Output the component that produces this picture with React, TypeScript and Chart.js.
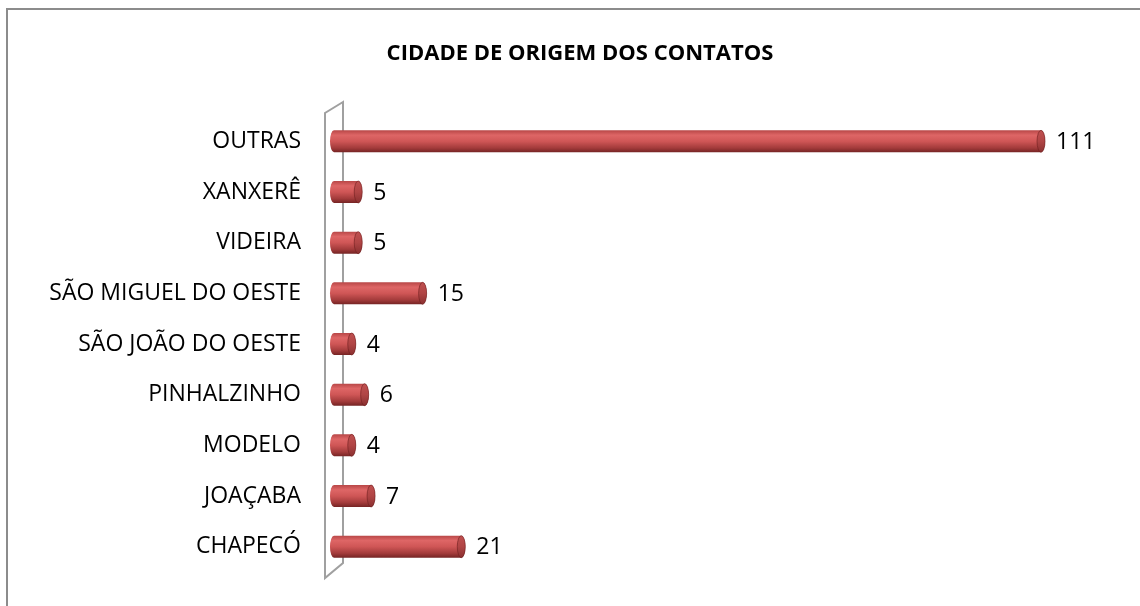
import React, { useEffect, useRef } from 'react';
import { Chart, registerables } from 'chart.js';

Chart.register(...registerables);

const chartTitle = 'CIDADE DE ORIGEM DOS CONTATOS';
const cities = [
  'OUTRAS',
  'XANXERÊ',
  'VIDEIRA',
  'SÃO MIGUEL DO OESTE',
  'SÃO JOÃO DO OESTE',
  'PINHALZINHO',
  'MODELO',
  'JOAÇABA',
  'CHAPECÓ',
];
const contacts = [111, 5, 5, 15, 4, 6, 4, 7, 21];
const xMin = 0;
const xMax = 120;

const FONT = '"Open Sans", "DejaVu Sans", sans-serif';

const decorPlugin = {
  id: 'decor',
  beforeDraw(chart: any) {
    const { ctx, chartArea: a } = chart;
    ctx.save();
    ctx.fillStyle = '#ffffff';
    ctx.fillRect(0, 0, chart.width, chart.height);
    // outer frame (extends beyond the photo on right/bottom)
    ctx.strokeStyle = '#8c8c8c';
    ctx.lineWidth = 2;
    ctx.strokeRect(7, 9, chart.width + 20, chart.height + 20);
    // title
    ctx.fillStyle = '#000000';
    ctx.font = 'bold 22px ' + FONT;
    ctx.textAlign = 'center';
    ctx.textBaseline = 'middle';
    ctx.fillText(chartTitle, 580, 54);
    // 3D wall
    const l = a.left - 5;
    const r = a.left + 13;
    ctx.strokeStyle = '#a0a0a0';
    ctx.lineWidth = 2;
    ctx.beginPath();
    ctx.moveTo(r, a.top - 14);
    ctx.lineTo(l, a.top - 3);
    ctx.lineTo(l, a.bottom + 6);
    ctx.lineTo(r, a.bottom - 9);
    ctx.closePath();
    ctx.stroke();
    ctx.restore();
  },
  afterDatasetsDraw(chart: any) {
    const { ctx } = chart;
    const meta = chart.getDatasetMeta(0);
    const values = chart.data.datasets[0].data;
    ctx.save();
    meta.data.forEach((el: any, i: number) => {
      const { x, y, base, height } = el.getProps(['x', 'y', 'base', 'height'], true);
      const ry = height / 2;
      const rx = 4;
      const top = y - ry;
      const g = ctx.createLinearGradient(0, top, 0, top + height);
      g.addColorStop(0, '#b84747');
      g.addColorStop(0.22, '#de6666');
      g.addColorStop(0.5, '#cf5656');
      g.addColorStop(0.8, '#a33b3b');
      g.addColorStop(1, '#752424');
      ctx.beginPath();
      ctx.ellipse(base + rx, y, rx, ry, 0, Math.PI / 2, Math.PI * 1.5);
      ctx.lineTo(x - rx, top);
      ctx.ellipse(x - rx, y, rx, ry, 0, -Math.PI / 2, Math.PI / 2);
      ctx.closePath();
      ctx.fillStyle = g;
      ctx.fill();
      // end cap
      const cg = ctx.createLinearGradient(0, top, 0, top + height);
      cg.addColorStop(0, '#c05050');
      cg.addColorStop(0.5, '#b04545');
      cg.addColorStop(1, '#8a3030');
      ctx.beginPath();
      ctx.ellipse(x - rx, y, rx, ry, 0, 0, Math.PI * 2);
      ctx.fillStyle = cg;
      ctx.fill();
      ctx.strokeStyle = 'rgba(110,30,30,0.6)';
      ctx.lineWidth = 1;
      ctx.stroke();
      // value label
      ctx.fillStyle = '#000000';
      ctx.font = '23px ' + FONT;
      ctx.textAlign = 'left';
      ctx.textBaseline = 'middle';
      ctx.fillText(String(values[i]), x + 11, y + 1);
    });
    ctx.restore();
  },
};

export default function App() {
  const ref = useRef<HTMLCanvasElement | null>(null);

  useEffect(() => {
    if (!ref.current) return;
    const chart = new Chart(ref.current, {
      type: 'bar',
      data: {
        labels: cities,
        datasets: [
          {
            data: contacts,
            backgroundColor: 'rgba(0,0,0,0)',
            borderWidth: 0,
            barThickness: 22,
          },
        ],
      },
      options: {
        indexAxis: 'y',
        responsive: false,
        animation: false,
        layout: { padding: { left: 8, right: 37, top: 116, bottom: 34 } },
        plugins: {
          legend: { display: false },
          tooltip: { enabled: false },
          title: { display: false },
        },
        scales: {
          x: { display: false, min: xMin, max: xMax },
          y: {
            afterFit: (s: any) => {
              s.width = 322;
            },
            grid: { display: false, drawTicks: true, tickLength: 29 },
            border: { display: false },
            ticks: {
              padding: 0,
              color: '#000000',
              font: { family: FONT, size: 23 },
            },
          },
        },
      } as any,
      plugins: [decorPlugin],
    });
    return () => chart.destroy();
  }, []);

  return (
    <div style={{ position: 'fixed', left: 0, top: 0, width: 1140, height: 606 }}>
      <canvas ref={ref} width={1140} height={606} style={{ display: 'block' }} />
    </div>
  );
}
